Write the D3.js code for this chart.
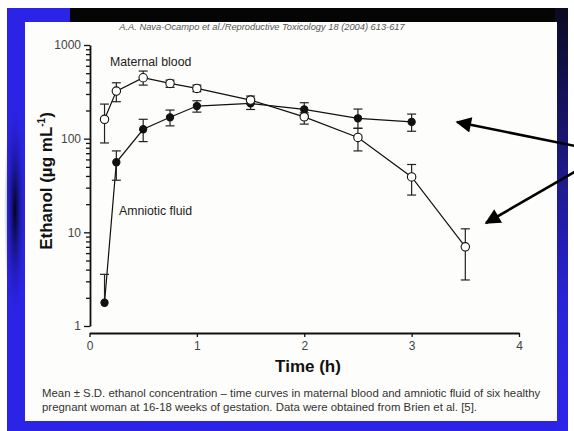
<!DOCTYPE html>
<html>
<head>
<meta charset="utf-8">
<script src="https://cdn.jsdelivr.net/npm/d3@7"></script>
<style>
  body { margin: 0; background: #fff; }
  svg { display: block; font-family: "Liberation Sans", Arial, sans-serif; }
</style>
</head>
<body>
<script>
// values
var times = [0.14, 0.25, 0.5, 0.75, 1, 1.5, 2, 2.5, 3, 3.5];

var maternal     = [161, 322, 447, 389, 344, 258, 171, 103, 39, 7.0];
var maternalHigh = [234, 395, 527, 422, 373, 285, 189, 129, 53, 10.9];
var maternalLow  = [90, 248, 373, 353, 317, 234, 143, 74, 25, 3.1];

var amniotic     = [1.77, 56, 126, 169, 223, 238, 205, 165, 151];
var amnioticHigh = [3.56, 74, 161, 202, 254, 269, 242, 207, 183];
var amnioticLow  = [1.77, 36, 93, 137, 192, 205, 179, 129, 120];

var xTicks = [0, 1, 2, 3, 4];
var yMajor = [1, 10, 100, 1000];

var W = 574, H = 431;

var svg = d3.select('body').append('svg')
  .attr('width', W)
  .attr('height', H);

// slide background
var defs = svg.append('defs');
var rg = defs.append('linearGradient').attr('id', 'rightGrad')
  .attr('x1', 0).attr('y1', 0).attr('x2', 0).attr('y2', 1);
rg.append('stop').attr('offset', '0%').attr('stop-color', '#0b0b22');
rg.append('stop').attr('offset', '70%').attr('stop-color', '#2a24d8');
rg.append('stop').attr('offset', '100%').attr('stop-color', '#2c25ea');

var lg = defs.append('radialGradient').attr('id', 'leftGlow')
  .attr('cx', 0.5).attr('cy', 0.5).attr('r', 0.5);
lg.append('stop').attr('offset', '0%').attr('stop-color', '#000010').attr('stop-opacity', 0.95);
lg.append('stop').attr('offset', '100%').attr('stop-color', '#2a24e0').attr('stop-opacity', 0);

svg.append('rect').attr('x', 7).attr('y', 8).attr('width', 561).attr('height', 423).attr('fill', '#2b24e6');
svg.append('rect').attr('x', 70).attr('y', 8).attr('width', 498).attr('height', 15).attr('fill', '#050505');
svg.append('rect').attr('x', 555).attr('y', 8).attr('width', 13).attr('height', 423).attr('fill', 'url(#rightGrad)');
svg.append('ellipse').attr('cx', 15).attr('cy', 210).attr('rx', 11).attr('ry', 115).attr('fill', 'url(#leftGlow)');

// white panel
svg.append('rect').attr('x', 25).attr('y', 22).attr('width', 532).attr('height', 399).attr('fill', '#fdfdfb');

svg.append('text')
  .attr('x', 262).attr('y', 30)
  .attr('text-anchor', 'middle')
  .attr('font-size', 9.3)
  .attr('font-style', 'italic')
  .attr('fill', '#555')
  .text('A.A. Nava-Ocampo et al./Reproductive Toxicology 18 (2004) 613-617');

// scales
var x = d3.scaleLinear().domain([0, 4]).range([89.5, 519]);
var y = d3.scaleLog().domain([1, 1000]).range([326, 45]);

var yMinor = [];
[1, 10, 100].forEach(function(d) {
  for (var k = 2; k <= 9; k++) { yMinor.push(d * k); }
});

// y axis
var yAxis = svg.append('g').attr('transform', 'translate(90,0)')
  .call(d3.axisLeft(y).tickValues(yMajor).tickSize(6).tickSizeOuter(0)
    .tickFormat(function(d) { return d; }));
svg.append('g').attr('transform', 'translate(90,0)')
  .call(d3.axisLeft(y).tickValues(yMinor).tickSize(4).tickSizeOuter(0).tickFormat(''))
  .select('.domain').remove();

// x axis
var xAxis = svg.append('g').attr('transform', 'translate(0,333)')
  .call(d3.axisBottom(x).tickValues(xTicks).tickSize(4).tickSizeOuter(0).tickFormat(d3.format('d')));

svg.selectAll('.domain').attr('stroke', '#111').attr('stroke-width', 1.8);
svg.selectAll('.tick line').attr('stroke', '#111').attr('stroke-width', 1.3);
svg.selectAll('.tick text').attr('font-size', 12).attr('fill', '#444')
  .attr('font-family', '"Liberation Sans", Arial, sans-serif');
yAxis.selectAll('.tick text').attr('dx', 0);
xAxis.selectAll('.tick text').attr('dy', '0.85em');

// axis titles
svg.append('text')
  .attr('x', 308).attr('y', 372)
  .attr('text-anchor', 'middle')
  .attr('font-size', 17).attr('font-weight', 'bold').attr('fill', '#111')
  .text('Time (h)');

var yt = svg.append('text')
  .attr('transform', 'translate(52,181) rotate(-90)')
  .attr('text-anchor', 'middle')
  .attr('font-size', 17).attr('font-weight', 'bold').attr('fill', '#111');
yt.append('tspan').text('Ethanol (\u00b5g mL');
yt.append('tspan').attr('font-size', 10).attr('dy', -7).text('-1');
yt.append('tspan').attr('dy', 7).text(')');

// series
function drawSeries(vals, hi, lo, filled) {
  var g = svg.append('g');
  var line = d3.line()
    .x(function(d, i) { return x(times[i]); })
    .y(function(d) { return y(d); });
  g.append('path').datum(vals)
    .attr('d', line)
    .attr('fill', 'none')
    .attr('stroke', '#111')
    .attr('stroke-width', 1.2);

  var rows = vals.map(function(v, i) { return { t: times[i], v: v, hi: hi[i], lo: lo[i] }; });
  var bars = g.selectAll('.err').data(rows).enter().append('g');
  bars.append('line')
    .attr('x1', function(d) { return x(d.t); })
    .attr('x2', function(d) { return x(d.t); })
    .attr('y1', function(d) { return y(d.hi); })
    .attr('y2', function(d) { return y(d.lo); })
    .attr('stroke', '#222').attr('stroke-width', 1.2);
  bars.append('line')
    .attr('x1', function(d) { return x(d.t) - 4.5; })
    .attr('x2', function(d) { return x(d.t) + 4.5; })
    .attr('y1', function(d) { return y(d.hi); })
    .attr('y2', function(d) { return y(d.hi); })
    .attr('stroke', '#222').attr('stroke-width', 1.2);
  bars.filter(function(d) { return d.lo < d.v; }).append('line')
    .attr('x1', function(d) { return x(d.t) - 4.5; })
    .attr('x2', function(d) { return x(d.t) + 4.5; })
    .attr('y1', function(d) { return y(d.lo); })
    .attr('y2', function(d) { return y(d.lo); })
    .attr('stroke', '#222').attr('stroke-width', 1.2);

  g.selectAll('circle').data(rows).enter().append('circle')
    .attr('cx', function(d) { return x(d.t); })
    .attr('cy', function(d) { return y(d.v); })
    .attr('r', filled ? 3.6 : 4.2)
    .attr('fill', filled ? '#111' : '#fff')
    .attr('stroke', '#111')
    .attr('stroke-width', 1.1);
}

drawSeries(amniotic, amnioticHigh, amnioticLow, true);
drawSeries(maternal, maternalHigh, maternalLow, false);

// labels
svg.append('text').attr('x', 110).attr('y', 66)
  .attr('font-size', 12.3).attr('fill', '#222').text('Maternal blood');
svg.append('text').attr('x', 119).attr('y', 215)
  .attr('font-size', 12.3).attr('fill', '#222').text('Amniotic fluid');

// arrows coming in from the right edge
defs.append('marker').attr('id', 'head')
  .attr('viewBox', '0 0 10 10').attr('refX', 9).attr('refY', 5)
  .attr('markerWidth', 6.5).attr('markerHeight', 6)
  .attr('markerUnits', 'strokeWidth')
  .attr('orient', 'auto')
  .append('path').attr('d', 'M0,0 L10,5 L0,10 Z').attr('fill', '#000');

svg.append('line').attr('x1', 590).attr('y1', 149).attr('x2', 457).attr('y2', 122)
  .attr('stroke', '#000').attr('stroke-width', 2.6).attr('marker-end', 'url(#head)');
svg.append('line').attr('x1', 590).attr('y1', 163).attr('x2', 486).attr('y2', 223)
  .attr('stroke', '#000').attr('stroke-width', 2.6).attr('marker-end', 'url(#head)');

// caption
var cap = svg.append('text').attr('font-size', 11.4).attr('fill', '#333');
cap.append('tspan').attr('x', 42).attr('y', 397)
  .text('Mean \u00b1 S.D. ethanol concentration \u2013 time curves in maternal blood and amniotic fluid of six healthy');
cap.append('tspan').attr('x', 42).attr('y', 411)
  .text('pregnant woman at 16-18 weeks of gestation.  Data were obtained from Brien et al. [5].');
</script>
</body>
</html>
